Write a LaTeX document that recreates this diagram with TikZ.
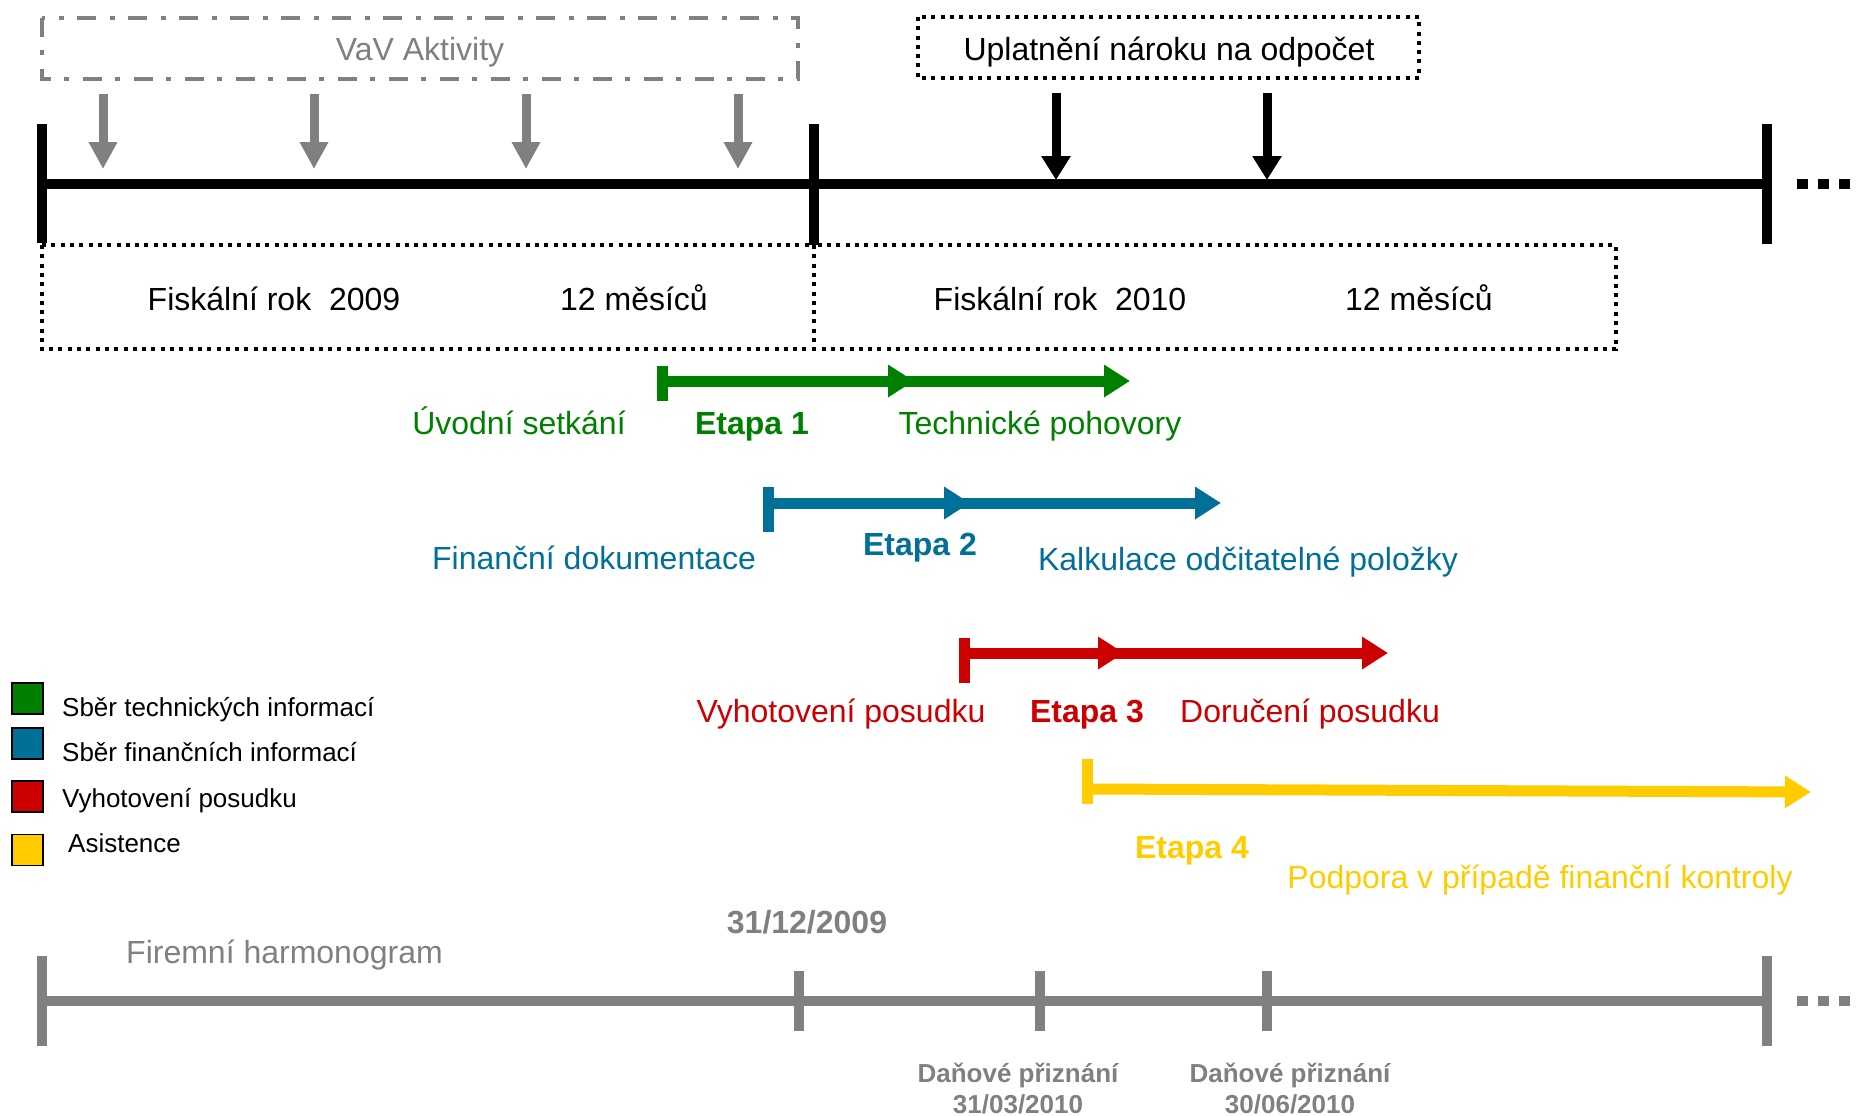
\documentclass[tikz,border=0pt]{standalone}
\usepackage{fontspec}
\setmainfont{Liberation Sans}
\usetikzlibrary{arrows.meta}
\definecolor{cgreen}{RGB}{0,128,0}
\definecolor{cblue}{RGB}{0,112,153}
\definecolor{cred}{RGB}{204,0,0}
\definecolor{cyellow}{RGB}{255,204,0}
\definecolor{cgray}{RGB}{128,128,128}
\begin{document}
\begin{tikzpicture}[x=1pt,y=-1pt,
  big/.style={font=\fontsize{32}{38}\selectfont, inner sep=0pt, anchor=base},
  small/.style={font=\fontsize{26}{31}\selectfont, inner sep=0pt, anchor=base},
  smallc/.style={font=\fontsize{26}{31}\selectfont\bfseries, inner sep=0pt, anchor=base, text=cgray},
  axisline/.style={line width=10pt},
  dotbox/.style={draw=black, line width=4pt, dash pattern=on 4pt off 5.3pt},
  dashdotbox/.style={draw=cgray, line width=4pt, dash pattern=on 19pt off 13pt on 5pt off 14pt},
  moredots/.style={line width=10pt, dash pattern=on 11pt off 10pt},
  grayarrow/.style={draw=cgray, line width=9pt, -{Triangle[length=27pt,width=27pt]}},
  blackarrow/.style={draw=black, line width=9pt, -{Triangle[length=24pt,width=28pt]}},
  stagearrow/.style={line width=11pt, -{Triangle[length=26pt,width=31pt]}},
  stagetick/.style={line width=11pt},
  legbox/.style={draw=black, line width=1.5pt, minimum width=31pt, minimum height=31pt, inner sep=0pt}
]
\useasboundingbox (0,0) rectangle (1860,1116);

% ---------- top boxes ----------
\draw[dashdotbox] (41.5,18) rectangle (798,79);
\node[big, text=cgray] (vav) at (420,60) {VaV Aktivity};
\draw[dotbox] (918,17) rectangle (1419,78);
\node[big] (upl) at (1169,60) {Uplatnění nároku na odpočet};

% ---------- top timeline ----------
\coordinate (t0) at (41.5,184);
\coordinate (t1) at (814,184);
\coordinate (t2) at (1767,184);
\draw[axisline] (t0) -- (t2);
\draw[axisline] (41.5,124) coordinate (t0a) -- (41.5,243) coordinate (t0b);
\draw[axisline] (814,124) coordinate (t1a) -- (814,245) coordinate (t1b);
\draw[axisline] (1767,124) coordinate (t2a) -- (1767,244) coordinate (t2b);
\coordinate (d0) at (1797,184);
\coordinate (d1) at (1850,184);
\draw[moredots] (d0) -- (d1);

% gray arrows
\foreach \i/\x in {1/103,2/314,3/526,4/738}{
  \coordinate (ga\i) at (\x,94);
  \coordinate (gb\i) at (\x,169);
  \draw[grayarrow] (ga\i) -- (gb\i);
}
% black arrows
\foreach \i/\x in {1/1056,2/1267}{
  \coordinate (ba\i) at (\x,93);
  \coordinate (bb\i) at (\x,180);
  \draw[blackarrow] (ba\i) -- (bb\i);
}

% ---------- fiscal boxes ----------
\draw[dotbox] (41.5,245) rectangle (814,349);
\draw[dotbox] (814,245) rectangle (1616,349);
\node[big] (fy1) at (274,310) {Fiskální rok\ \ 2009};
\node[big] (m1) at (634,310) {12 měsíců};
\node[big] (fy2) at (1060,310) {Fiskální rok\ \ 2010};
\node[big] (m2) at (1419,310) {12 měsíců};

% ---------- Etapa 1 ----------
\coordinate (e1s) at (662,381);
\coordinate (e1m) at (914,381);
\coordinate (e1b) at (890,381);
\coordinate (e1e) at (1130,381);
\draw[stagetick, cgreen] (662,366) coordinate (e1ta) -- (662,401) coordinate (e1tb);
\draw[stagearrow, cgreen] (e1b) -- (e1e);
\draw[stagearrow, cgreen] (e1s) -- (e1m);
\node[big, text=cgreen] (uvod) at (519,434) {Úvodní setkání};
\node[big, text=cgreen, font=\fontsize{32}{38}\selectfont\bfseries] (et1) at (752,434) {Etapa 1};
\node[big, text=cgreen] (tech) at (1040,434) {Technické pohovory};

% ---------- Etapa 2 ----------
\coordinate (e2s) at (768,503);
\coordinate (e2m) at (970,503);
\coordinate (e2b) at (946,503);
\coordinate (e2e) at (1221,503);
\draw[stagetick, cblue] (768,487) coordinate (e2ta) -- (768,532) coordinate (e2tb);
\draw[stagearrow, cblue] (e2b) -- (e2e);
\draw[stagearrow, cblue] (e2s) -- (e2m);
\node[big, text=cblue] (fin) at (594,569) {Finanční dokumentace};
\node[big, text=cblue, font=\fontsize{32}{38}\selectfont\bfseries] (et2) at (920,555) {Etapa 2};
\node[big, text=cblue] (kalk) at (1248,570) {Kalkulace odčitatelné položky};

% ---------- Etapa 3 ----------
\coordinate (e3s) at (964,653);
\coordinate (e3m) at (1124,653);
\coordinate (e3b) at (1100,653);
\coordinate (e3e) at (1388,653);
\draw[stagetick, cred] (964,638) coordinate (e3ta) -- (964,683) coordinate (e3tb);
\draw[stagearrow, cred] (e3b) -- (e3e);
\draw[stagearrow, cred] (e3s) -- (e3m);
\node[big, text=cred] (vyh) at (841,722) {Vyhotovení posudku};
\node[big, text=cred, font=\fontsize{32}{38}\selectfont\bfseries] (et3) at (1087,722) {Etapa 3};
\node[big, text=cred] (dor) at (1310,722) {Doručení posudku};

% ---------- Etapa 4 ----------
\coordinate (e4s) at (1087,789);
\coordinate (e4e) at (1811,792);
\draw[stagetick, cyellow] (1087,759) coordinate (e4ta) -- (1087,804) coordinate (e4tb);
\draw[stagearrow, cyellow] (e4s) -- (e4e);
\node[big, text=cyellow, font=\fontsize{32}{38}\selectfont\bfseries] (et4) at (1192,858) {Etapa 4};
\node[big, text=cyellow] (podp) at (1540,888) {Podpora v případě finanční kontroly};

% ---------- legend ----------
\node[legbox, fill=cgreen] (lg1) at (27.5,698.5) {};
\node[legbox, fill=cblue] (lg2) at (27.5,743.5) {};
\node[legbox, fill=cred] (lg3) at (27.5,796.5) {};
\node[legbox, fill=cyellow] (lg4) at (27.5,850) {};
\node[small, anchor=base west] (lt1) at (62,716) {Sběr technických informací};
\node[small, anchor=base west] (lt2) at (62,761) {Sběr finančních informací};
\node[small, anchor=base west] (lt3) at (62,807) {Vyhotovení posudku};
\node[small, anchor=base west] (lt4) at (68,852) {Asistence};

% ---------- bottom timeline ----------
\coordinate (b0) at (41.5,1001);
\coordinate (b4) at (1767,1001);
\draw[axisline, cgray] (b0) -- (b4);
\draw[axisline, cgray] (41.5,956) coordinate (b0a) -- (41.5,1046) coordinate (b0b);
\draw[axisline, cgray] (799,971) coordinate (b1a) -- (799,1031) coordinate (b1b);
\draw[axisline, cgray] (1040,971) coordinate (b2a) -- (1040,1031) coordinate (b2b);
\draw[axisline, cgray] (1267,971) coordinate (b3a) -- (1267,1031) coordinate (b3b);
\draw[axisline, cgray] (1767,956) coordinate (b4a) -- (1767,1046) coordinate (b4b);
\coordinate (bd0) at (1797,1001);
\coordinate (bd1) at (1850,1001);
\draw[moredots, cgray] (bd0) -- (bd1);

\node[big, text=cgray] (firm) at (284.5,963) {Firemní harmonogram};
\node[big, text=cgray, font=\fontsize{32}{38}\selectfont\bfseries] (d09) at (807,933) {31/12/2009};
\node[smallc] (dp1) at (1018,1082) {Daňové přiznání};
\node[smallc] (dp1d) at (1018,1113) {31/03/2010};
\node[smallc] (dp2) at (1290,1082) {Daňové přiznání};
\node[smallc] (dp2d) at (1290,1113) {30/06/2010};
\end{tikzpicture}
\end{document}
